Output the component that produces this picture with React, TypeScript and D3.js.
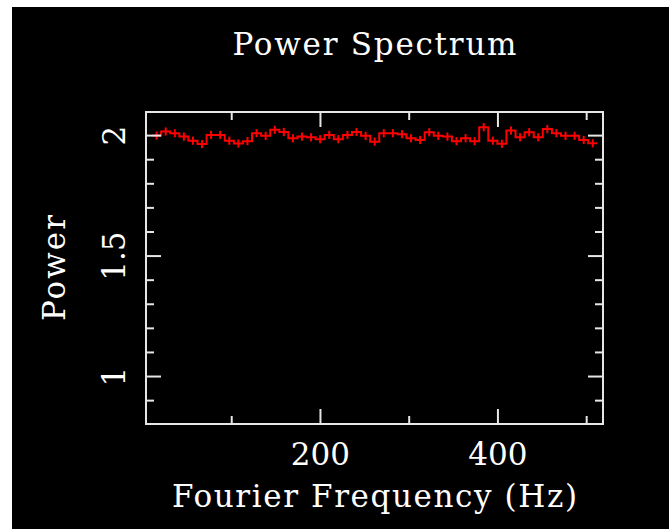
import React from "react";
import * as d3 from "d3";

const binWidth = 10.24;
const firstFreq = 15.36;
const powerValues = [
  2.000, 2.017, 2.010, 1.996, 1.979, 1.965, 2.003, 2.003, 1.979, 1.967,
  1.977, 2.010, 1.999, 2.024, 2.015, 1.989, 1.996, 1.993, 1.985, 2.003,
  1.985, 2.003, 2.015, 1.999, 1.975, 2.010, 2.010, 2.006, 1.989, 1.982,
  2.014, 1.999, 1.996, 1.977, 1.989, 1.977, 2.035, 1.979, 1.966, 2.021,
  1.993, 2.014, 1.993, 2.027, 2.010, 1.999, 1.999, 1.982, 1.968,
];
const powerError = 0.017;
const xMajorTicks = [200, 400];
const xMinorTicks = [100, 300, 500];
const yMajorTicks = [1, 1.5, 2];
const yMinorTicks = [0.9, 1.1, 1.2, 1.3, 1.4, 1.6, 1.7, 1.8, 1.9];
const yTickLabels = ["1", "1.5", "2"];
const xTickLabels = ["200", "400"];

const W = 671;
const H = 529;
const left = 146, right = 603, top = 112, bottom = 424;
const FONT = "DejaVu Serif";
const AXIS = "#e6e6e6";
const FS = 31;

export default function App() {
  const x = d3.scaleLinear().domain([3.4, 518.4]).range([left, right]);
  const y = d3.scaleLinear().domain([0.803, 2.098]).range([bottom, top]);
  const data = powerValues.map((v, i) => ({ f: firstFreq + binWidth * i, v }));

  const ext = [
    { f: data[0].f - binWidth / 2, v: data[0].v },
    ...data,
    { f: data[data.length - 1].f + binWidth / 2, v: data[data.length - 1].v },
  ];
  const stepPath = d3
    .line<{ f: number; v: number }>()
    .x((d) => x(d.f))
    .y((d) => y(d.v))
    .curve(d3.curveStep)(ext);

  const majorLen = 15;
  const minorLen = 8;

  return (
    <svg width={W} height={H} style={{ position: "absolute", left: 0, top: 0 }}>
      <rect x={0} y={0} width={W} height={H} fill="#ffffff" />
      <rect x={12} y={7} width={657} height={522} fill="#000000" />
      <text
        x={(left + right) / 2}
        y={55}
        fill="#ffffff"
        fontFamily={FONT}
        fontSize={FS}
        textAnchor="middle"
        textLength={284}
        lengthAdjust="spacing"
      >
        Power Spectrum
      </text>
      <path d={stepPath || ""} fill="none" stroke="#ff0000" strokeWidth={2} />
      {data.map((d, i) => (
        <line
          key={i}
          x1={x(d.f)}
          x2={x(d.f)}
          y1={y(d.v - powerError)}
          y2={y(d.v + powerError)}
          stroke="#ff0000"
          strokeWidth={2}
        />
      ))}
      <rect
        x={left}
        y={top}
        width={right - left}
        height={bottom - top}
        fill="none"
        stroke={AXIS}
        strokeWidth={2}
      />
      {xMajorTicks.map((t) => (
        <g key={"xM" + t}>
          <line x1={x(t)} x2={x(t)} y1={bottom} y2={bottom - majorLen} stroke={AXIS} strokeWidth={2} />
          <line x1={x(t)} x2={x(t)} y1={top} y2={top + majorLen} stroke={AXIS} strokeWidth={2} />
        </g>
      ))}
      {xMinorTicks.map((t) => (
        <g key={"xm" + t}>
          <line x1={x(t)} x2={x(t)} y1={bottom} y2={bottom - minorLen} stroke={AXIS} strokeWidth={2} />
          <line x1={x(t)} x2={x(t)} y1={top} y2={top + minorLen} stroke={AXIS} strokeWidth={2} />
        </g>
      ))}
      {yMajorTicks.map((t) => (
        <g key={"yM" + t}>
          <line x1={left} x2={left + majorLen} y1={y(t)} y2={y(t)} stroke={AXIS} strokeWidth={2} />
          <line x1={right} x2={right - majorLen} y1={y(t)} y2={y(t)} stroke={AXIS} strokeWidth={2} />
        </g>
      ))}
      {yMinorTicks.map((t) => (
        <g key={"ym" + t}>
          <line x1={left} x2={left + minorLen} y1={y(t)} y2={y(t)} stroke={AXIS} strokeWidth={2} />
          <line x1={right} x2={right - minorLen} y1={y(t)} y2={y(t)} stroke={AXIS} strokeWidth={2} />
        </g>
      ))}
      {xMajorTicks.map((t, i) => (
        <text
          key={"xl" + t}
          x={x(t)}
          y={465}
          fill="#ffffff"
          fontFamily={FONT}
          fontSize={FS}
          textAnchor="middle"
        >
          {xTickLabels[i]}
        </text>
      ))}
      {yMajorTicks.map((t, i) => (
        <text
          key={"yl" + t}
          transform={`translate(125,${y(t)}) rotate(-90)`}
          fill="#ffffff"
          fontFamily={FONT}
          fontSize={FS}
          textAnchor="middle"
        >
          {yTickLabels[i]}
        </text>
      ))}
      <text
        x={(left + right) / 2}
        y={507}
        fill="#ffffff"
        fontFamily={FONT}
        fontSize={FS}
        textAnchor="middle"
        textLength={405}
        lengthAdjust="spacing"
      >
        Fourier Frequency (Hz)
      </text>
      <text
        transform={`translate(65,${(top + bottom) / 2}) rotate(-90)`}
        fill="#ffffff"
        fontFamily={FONT}
        fontSize={FS}
        textAnchor="middle"
        textLength={106}
        lengthAdjust="spacing"
      >
        Power
      </text>
    </svg>
  );
}
